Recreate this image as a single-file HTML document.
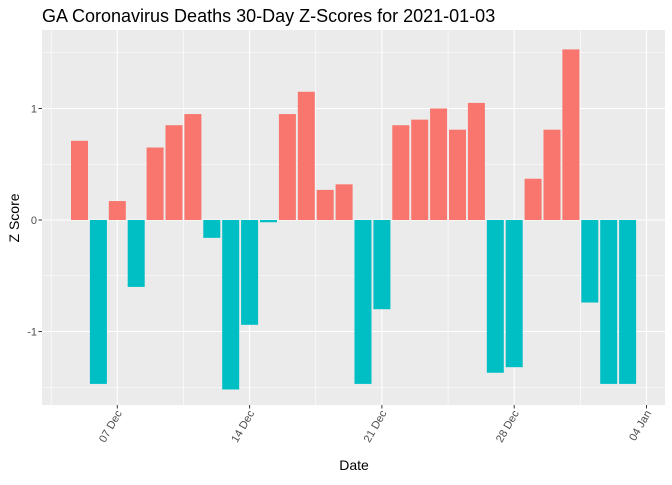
<!DOCTYPE html>
<html><head><meta charset="utf-8"><style>
body{margin:0;background:#fff;font-family:"Liberation Sans",sans-serif;}
</style></head><body>
<svg id="chart" width="672" height="480" xmlns="http://www.w3.org/2000/svg">
<text x="42" y="22" font-size="18" fill="#000">GA Coronavirus Deaths 30-Day Z-Scores for 2021-01-03</text>
<rect x="42" y="30" width="623" height="375" fill="#EBEBEB"/>
<g id="grid"></g><g id="bars"></g><g id="axes"></g>
<text x="354" y="470" font-size="14" text-anchor="middle" fill="#000">Date</text>
<text transform="translate(19,218) rotate(-90)" font-size="14" text-anchor="middle" fill="#000">Z Score</text>
</svg>
<script>
const dates=["Dec 5","Dec 6","Dec 7","Dec 8","Dec 9","Dec 10","Dec 11","Dec 12","Dec 13","Dec 14","Dec 15","Dec 16","Dec 17","Dec 18","Dec 19","Dec 20","Dec 21","Dec 22","Dec 23","Dec 24","Dec 25","Dec 26","Dec 27","Dec 28","Dec 29","Dec 30","Dec 31","Jan 1","Jan 2","Jan 3"];
const zscores=[0.71,-1.47,0.17,-0.6,0.65,0.85,0.95,-0.16,-1.52,-0.94,-0.02,0.95,1.15,0.27,0.32,-1.47,-0.8,0.85,0.9,1.0,0.81,1.05,-1.37,-1.32,0.37,0.81,1.53,-0.74,-1.47,-1.47];
const xTickLabels=["07 Dec","14 Dec","21 Dec","28 Dec","04 Jan"];
const xTickIndex=[2,9,16,23,30];
const yTicks=[-1,0,1];
const NS="http://www.w3.org/2000/svg";
const L=42,R=665,T=30,B=405;
const x=i=>79.5+i*18.9;
const y=v=>220-v*111.5;
function mk(tag,attrs,parent){const e=document.createElementNS(NS,tag);for(const k in attrs)e.setAttribute(k,attrs[k]);parent.appendChild(e);return e;}
const grid=document.getElementById('grid'),bars=document.getElementById('bars'),axes=document.getElementById('axes');
[-1.5,-0.5,0.5,1.5].forEach(v=>{const l=mk('line',{x1:L,x2:R,y1:y(v),y2:y(v),stroke:'#fff','stroke-width':0.6},grid);

});
xTickIndex.forEach((ix,k)=>{const m=mk('line',{x1:x(ix-3.5),x2:x(ix-3.5),y1:T,y2:B,stroke:'#fff','stroke-width':0.6},grid);

});
yTicks.forEach(v=>{const l=mk('line',{x1:L,x2:R,y1:y(v),y2:y(v),stroke:'#fff','stroke-width':1.1},grid);


const t=mk('text',{x:37,y:y(v)+4,'font-size':11,'text-anchor':'end',fill:'#4D4D4D'},axes);t.textContent=v;


const tk=mk('line',{x1:38.5,x2:42,y1:y(v),y2:y(v),stroke:'#333','stroke-width':1},axes);

});
xTickIndex.forEach((ix,k)=>{const px=x(ix);
const l=mk('line',{x1:px,x2:px,y1:T,y2:B,stroke:'#fff','stroke-width':1.1},grid);


const tk=mk('line',{x1:px,x2:px,y1:B,y2:B+3.5,stroke:'#333','stroke-width':1},axes);


const t=mk('text',{transform:`translate(${px+5},${B+8}) rotate(-60)`,'font-size':11,'text-anchor':'end',fill:'#4D4D4D'},axes);t.textContent=xTickLabels[k];

});
zscores.forEach((v,i)=>{const top=Math.min(y(v),y(0)),h=Math.abs(y(v)-y(0));
const r=mk('rect',{x:x(i)-8.5,y:top,width:17,height:h,fill:v>=0?'#F8766D':'#00BFC4'},bars);

});
</script>
</body></html>
